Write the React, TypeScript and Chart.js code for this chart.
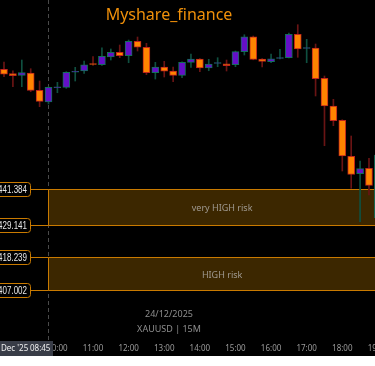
import React, { useEffect, useRef } from 'react';
import { Chart, registerables } from 'chart.js';
Chart.register(...registerables);

// 15-minute candles, index 0 = 08:30
const times = [
  '08:30','08:45','09:00','09:15','09:30','09:45','10:00','10:15','10:30','10:45',
  '11:00','11:15','11:30','11:45','12:00','12:15','12:30','12:45','13:00','13:15',
  '13:30','13:45','14:00','14:15','14:30','14:45','15:00','15:15','15:30','15:45',
  '16:00','16:15','16:30','16:45','17:00','17:15','17:30','17:45','18:00','18:15',
  '18:30','18:45','19:00'
];
const opens = [
  4482.47, 4480.97, 4480.42, 4481.21, 4475.32, 4471.34, 4476.20, 4476.34, 4481.50, 4481.89,
  4484.40, 4484.03, 4486.65, 4488.25, 4487.10, 4492.00, 4489.96, 4481.31, 4483.25, 4481.89,
  4480.42, 4484.85, 4485.97, 4482.91, 4484.50, 4484.37, 4484.03, 4488.46, 4493.56, 4485.97,
  4485.05, 4486.20, 4486.42, 4494.38, 4489.60, 4489.72, 4479.40, 4469.97, 4465.11, 4452.85,
  4446.93, 4448.77, 4432.00
];
const highs = [
  4484.96, 4481.99, 4485.63, 4482.67, 4478.48, 4476.50, 4478.04, 4481.65, 4483.15, 4485.29,
  4486.76, 4489.82, 4489.38, 4490.74, 4492.44, 4493.46, 4491.32, 4484.85, 4485.19, 4483.25,
  4485.05, 4487.67, 4486.10, 4485.87, 4486.42, 4485.63, 4488.70, 4494.24, 4493.80, 4486.10,
  4487.67, 4489.27, 4494.82, 4497.65, 4492.68, 4491.08, 4480.19, 4472.25, 4465.30, 4459.76,
  4451.25, 4452.17, 4455.00
];
const lows = [
  4479.95, 4476.54, 4476.54, 4474.84, 4469.74, 4470.65, 4474.50, 4476.00, 4478.48, 4481.10,
  4483.83, 4483.83, 4485.63, 4486.42, 4484.71, 4488.70, 4480.63, 4479.16, 4479.85, 4478.25,
  4479.61, 4483.15, 4481.65, 4481.99, 4483.35, 4481.89, 4483.35, 4487.33, 4485.70, 4483.25,
  4484.71, 4485.97, 4486.31, 4486.55, 4484.71, 4473.38, 4456.46, 4463.27, 4447.85, 4441.96,
  4430.59, 4439.68, 4428.00
];
const closes = [
  4480.77, 4480.29, 4481.31, 4475.32, 4471.57, 4476.34, 4476.50, 4481.45, 4481.80, 4484.03,
  4484.10, 4486.89, 4488.25, 4487.10, 4492.00, 4489.96, 4481.31, 4483.25, 4481.79, 4480.42,
  4484.85, 4485.97, 4482.91, 4484.27, 4484.75, 4483.69, 4488.46, 4493.56, 4485.87, 4485.19,
  4486.07, 4486.45, 4494.38, 4489.38, 4489.85, 4479.27, 4469.97, 4464.97, 4452.95, 4446.72,
  4448.63, 4442.98, 4453.29
];

const zoneTops = [4441.384, 4418.239];
const zoneBottoms = [4429.141, 4407.002];
const zoneNames = ['very HIGH risk', 'HIGH risk'];
const zoneStartIndex = 5;
const zoneEndIndex = 44;

const hourTickIndex = [6, 10, 14, 18, 22, 26, 30, 34, 38, 42];

const titleText = 'Myshare_finance';
const dateText = '24/12/2025';
const symbolText = 'XAUUSD | 15M';
const cursorDate = "Dec '25";
const cursorTime = '08:45';

const UP_BODY = '#6410c8';
const UP_BORDER = '#127058';
const UP_WICK = '#0f5040';
const DN_BODY = '#ff8400';
const DN_BORDER = '#c0241c';
const DN_WICK = '#6a1414';
const ZONE_LINE = '#c97a00';
const ZONE_FILL = '#3c2700';

function fmtPrice(v: number) {
  return v.toFixed(3);
}

function condensedText(ctx: CanvasRenderingContext2D, text: string, xRight: number, yMid: number, sx: number) {
  ctx.save();
  ctx.scale(sx, 1);
  ctx.textAlign = 'right';
  ctx.fillText(text, xRight / sx, yMid);
  ctx.restore();
}

const overlayPlugin = {
  id: 'overlay',
  beforeDatasetsDraw(chart: any) {
    const { ctx } = chart;
    const x = chart.scales.x;
    const y = chart.scales.y;
    ctx.save();
    const xs = Math.floor(x.getPixelForValue(zoneStartIndex)) + 0.5;
    const xe = x.getPixelForValue(zoneEndIndex);
    // dashed vertical separator
    ctx.strokeStyle = '#4a4a4a';
    ctx.lineWidth = 1;
    ctx.setLineDash([4, 3]);
    ctx.beginPath();
    ctx.moveTo(xs, 0);
    ctx.lineTo(xs, chart.height);
    ctx.stroke();
    ctx.setLineDash([]);
    // zones
    for (let i = 0; i < zoneTops.length; i++) {
      const yt = Math.floor(y.getPixelForValue(zoneTops[i])) + 0.5;
      const yb = Math.floor(y.getPixelForValue(zoneBottoms[i])) + 0.5;
      ctx.fillStyle = ZONE_FILL;
      ctx.fillRect(xs, yt, xe - xs, yb - yt);
      ctx.strokeStyle = ZONE_LINE;
      ctx.lineWidth = 1;
      ctx.beginPath();
      ctx.moveTo(xe, yt);
      ctx.lineTo(xs, yt);
      ctx.lineTo(xs, yb);
      ctx.lineTo(xe, yb);
      ctx.stroke();
      ctx.fillStyle = '#a09a90';
      ctx.font = '9px "Noto Sans"';
      ctx.textAlign = 'center';
      ctx.textBaseline = 'middle';
      ctx.fillText(zoneNames[i], (xs + xe) / 2, (yt + yb) / 2 + 1);
    }
    ctx.restore();
  },
  afterDatasetsDraw(chart: any) {
    const { ctx } = chart;
    const x = chart.scales.x;
    const y = chart.scales.y;
    ctx.save();
    const xs = Math.floor(x.getPixelForValue(zoneStartIndex)) + 0.5;
    // price tags on the left with connectors
    const levels: number[] = [];
    for (let i = 0; i < zoneTops.length; i++) {
      levels.push(zoneTops[i], zoneBottoms[i]);
    }
    levels.forEach((lv) => {
      const py = Math.floor(y.getPixelForValue(lv)) + 0.5;
      ctx.strokeStyle = ZONE_LINE;
      ctx.lineWidth = 1;
      ctx.beginPath();
      ctx.moveTo(30.5, py);
      ctx.lineTo(xs, py);
      ctx.stroke();
      ctx.fillStyle = '#000000';
      ctx.beginPath();
      (ctx as any).roundRect(-6.5, py - 7, 37, 14, 3);
      ctx.fill();
      ctx.stroke();
      ctx.fillStyle = '#e6e6e6';
      ctx.font = '10px "Liberation Sans"';
      ctx.textBaseline = 'middle';
      condensedText(ctx, fmtPrice(lv), 27, py + 0.5, 0.8);
    });
    // title
    ctx.fillStyle = '#f0900a';
    ctx.font = '16px "Noto Sans"';
    ctx.textAlign = 'center';
    ctx.textBaseline = 'alphabetic';
    ctx.fillText(titleText, 169, 20);
    // date and symbol
    ctx.fillStyle = '#8e8e8e';
    ctx.font = '9px "Noto Sans"';
    ctx.fillText(dateText, 169, 317);
    ctx.fillText(symbolText, 169, 332);
    // time labels
    ctx.fillStyle = '#9a9a9a';
    ctx.font = '8px "Noto Sans"';
    hourTickIndex.forEach((k) => {
      ctx.fillText(times[k], x.getPixelForValue(k), 350.5);
    });
    // cursor date box
    ctx.fillStyle = '#383c47';
    ctx.fillRect(0, 341, 53, 15);
    ctx.fillStyle = '#f0f0f0';
    ctx.textAlign = 'left';
    ctx.font = '8px "Noto Sans"';
    ctx.fillText(cursorDate, 1, 351);
    ctx.fillText(cursorTime, 30, 351);
    ctx.restore();
  },
};

export default function App() {
  const ref = useRef<HTMLCanvasElement | null>(null);
  useEffect(() => {
    if (!ref.current) return;
    const up = closes.map((c, i) => c >= opens[i]);
    const wickData = times.map((_, i) => ({ x: i, y: [lows[i], highs[i]] }));
    const bodyData = times.map((_, i) => ({ x: i, y: [opens[i], closes[i]] }));
    const chart = new Chart(ref.current, {
      type: 'bar',
      data: {
        datasets: [
          {
            label: 'body',
            data: bodyData as any,
            backgroundColor: up.map((u) => (u ? UP_BODY : DN_BODY)),
            borderColor: up.map((u) => (u ? UP_BORDER : DN_BORDER)),
            borderWidth: 1,
            borderSkipped: false,
            barThickness: 7,
            grouped: false,
            order: 0,
          } as any,
          {
            label: 'wick',
            data: wickData as any,
            backgroundColor: up.map((u) => (u ? UP_WICK : DN_WICK)),
            borderWidth: 0,
            barThickness: 1,
            grouped: false,
            order: 1,
          } as any,
        ],
      },
      options: {
        responsive: false,
        animation: false,
        devicePixelRatio: 1,
        layout: { padding: 0 },
        plugins: { legend: { display: false }, tooltip: { enabled: false }, title: { display: false } },
        scales: {
          x: { type: 'linear', min: -0.449, max: 41.675, offset: false, display: false, grid: { offset: false } },
          y: { type: 'linear', min: 4384.87, max: 4506.06, display: false },
        },
      },
      plugins: [overlayPlugin],
    });
    return () => chart.destroy();
  }, []);
  return (
    <div style={{ position: 'absolute', left: 0, top: 0, width: 375, height: 356, background: '#000' }}>
      <canvas ref={ref} width={375} height={356} style={{ display: 'block' }} />
    </div>
  );
}
